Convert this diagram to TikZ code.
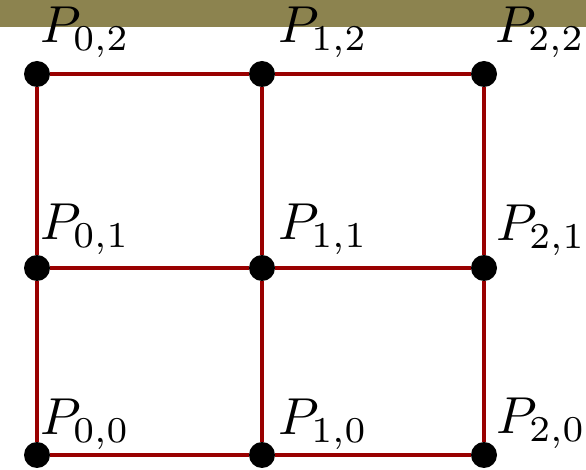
\documentclass[tikz,border=0pt]{standalone}
\definecolor{olivebar}{RGB}{140,131,79}
\definecolor{gridred}{RGB}{153,0,0}
\tikzset{
  dot/.style={circle, fill=black, inner sep=0pt, minimum size=19.5pt},
  edge/.style={draw=gridred, line width=2.3pt},
  plabel/.style={anchor=base west, inner sep=0pt, scale=3.9},
}
\begin{document}
\begin{tikzpicture}[x=0.75pt, y=-0.75pt]
\useasboundingbox (0,0) rectangle (586,470);
\fill[olivebar] (0,0) rectangle (586,27);
% points
\node[dot] (p00) at (37,455) {};
\node[dot] (p10) at (262,455) {};
\node[dot] (p20) at (484,455) {};
\node[dot] (p01) at (37,268) {};
\node[dot] (p11) at (262,268) {};
\node[dot] (p21) at (484,268) {};
\node[dot] (p02) at (37,74) {};
\node[dot] (p12) at (262,74) {};
\node[dot] (p22) at (484,74) {};
% edges
\draw[edge] (p00) -- (p10);
\draw[edge] (p10) -- (p20);
\draw[edge] (p01) -- (p11);
\draw[edge] (p11) -- (p21);
\draw[edge] (p02) -- (p12);
\draw[edge] (p12) -- (p22);
\draw[edge] (p00) -- (p01);
\draw[edge] (p01) -- (p02);
\draw[edge] (p10) -- (p11);
\draw[edge] (p11) -- (p12);
\draw[edge] (p20) -- (p21);
\draw[edge] (p21) -- (p22);
% labels
\node[plabel] (l02) at (39,43) {$P_{0,2}$};
\node[plabel] (l12) at (277,43) {$P_{1,2}$};
\node[plabel] (l22) at (494,43) {$P_{2,2}$};
\node[plabel] (l01) at (39,240) {$P_{0,1}$};
\node[plabel] (l11) at (277,240) {$P_{1,1}$};
\node[plabel] (l21) at (495,241) {$P_{2,1}$};
\node[plabel] (l00) at (39,435) {$P_{0,0}$};
\node[plabel] (l10) at (277,435) {$P_{1,0}$};
\node[plabel] (l20) at (495,434) {$P_{2,0}$};
\end{tikzpicture}
\end{document}
